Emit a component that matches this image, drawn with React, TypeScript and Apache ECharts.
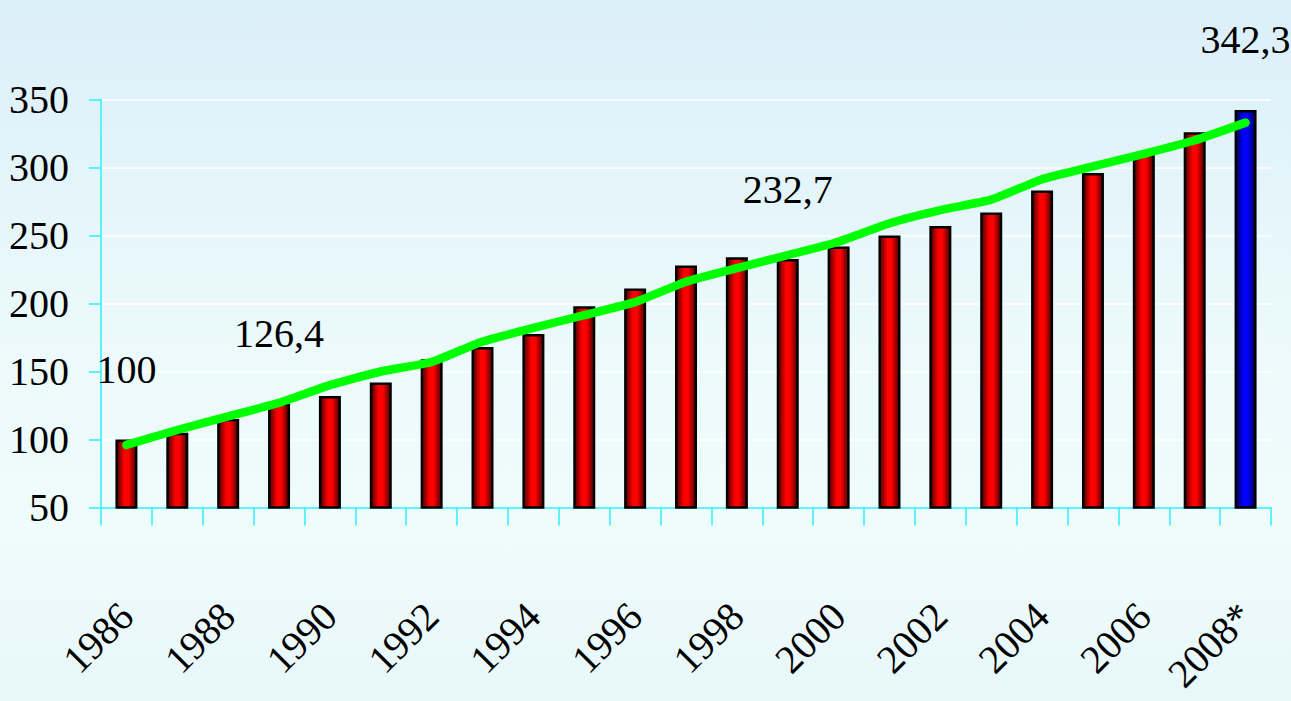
import React, { useEffect, useRef } from "react";
import * as echarts from "echarts";

const years = [
  "1986", "1987", "1988", "1989", "1990", "1991", "1992", "1993", "1994", "1995", "1996",
  "1997", "1998", "1999", "2000", "2001", "2002", "2003", "2004", "2005", "2006", "2007", "2008*",
];
const values = [
  100, 105, 115, 126.4, 132, 142, 159, 168, 177.5, 198, 211,
  228, 234, 232.7, 242, 250, 257, 267, 283, 296, 310, 326, 342.3,
];
const trend = [
  96, 107, 117, 127, 140, 150, 157, 172, 182, 191.5, 201,
  216, 226, 235.6, 245.4, 259, 268.7, 276.4, 291.4, 300.8, 310, 320, 333,
];
const labeledYears = ["1986", "1989", "1999", "2008*"];
const highlightYear = "2008*";
const yMin = 50;
const yMax = 350;
const yStep = 50;

const FONT = "'Liberation Serif', 'Times New Roman', serif";
const CYAN = "#2cf0ff";

export default function App() {
  const ref = useRef<HTMLDivElement>(null);
  useEffect(() => {
    if (!ref.current) return;
    const chart = echarts.init(ref.current, null, { renderer: "svg" });
    const redGrad = new echarts.graphic.LinearGradient(0, 0, 1, 0, [
      { offset: 0, color: "#4a0000" },
      { offset: 0.4, color: "#ff0000" },
      { offset: 0.6, color: "#ff0000" },
      { offset: 1, color: "#4a0000" },
    ]);
    const blueGrad = new echarts.graphic.LinearGradient(0, 0, 1, 0, [
      { offset: 0, color: "#00004a" },
      { offset: 0.4, color: "#0000ff" },
      { offset: 0.6, color: "#0000ff" },
      { offset: 1, color: "#00004a" },
    ]);
    const barData = values.map((v, i) => {
      const y = years[i];
      const item: any = {
        value: v,
        itemStyle: { color: y === highlightYear ? blueGrad : redGrad },
      };
      if (labeledYears.includes(y)) {
        item.label = {
          show: true,
          position: "top",
          distance: 50,
          formatter: (p: any) => String(p.value).replace(".", ","),
          fontFamily: FONT,
          fontSize: 40,
          color: "#000",
        };
      }
      return item;
    });
    chart.setOption({
      animation: false,
      backgroundColor: new echarts.graphic.LinearGradient(0, 0, 0, 1, [
        { offset: 0, color: "#dbeff9" },
        { offset: 0.5, color: "#ecfafb" },
        { offset: 0.75, color: "#effcfc" },
        { offset: 1, color: "#e8f7fa" },
      ]),
      grid: { left: 101, right: 20, top: 99.5, bottom: 193.5, containLabel: false },
      xAxis: {
        type: "category",
        data: years,
        boundaryGap: true,
        axisLine: { show: true, lineStyle: { color: CYAN, width: 1.5 } },
        axisTick: { show: true, interval: 0, length: 18, lineStyle: { color: CYAN, width: 1.5 } },
        axisLabel: {
          interval: 1,
          rotate: 45,
          margin: 102,
          fontFamily: FONT,
          fontSize: 40,
          color: "#000",
        },
        splitLine: { show: false },
      },
      yAxis: {
        type: "value",
        min: yMin,
        max: yMax,
        interval: yStep,
        axisLine: { show: true, lineStyle: { color: CYAN, width: 1.5 } },
        axisTick: { show: true, length: 12, lineStyle: { color: CYAN, width: 1.5 } },
        axisLabel: { margin: 32, fontFamily: FONT, fontSize: 40, color: "#000" },
        splitLine: { show: true, lineStyle: { color: "#ffffff", width: 1.5 } },
      },
      series: [
        {
          type: "bar",
          data: barData,
          barWidth: 22,
          itemStyle: { borderColor: "#000", borderWidth: 2.5 },
          z: 2,
        },
        {
          type: "line",
          data: trend,
          symbol: "none",
          smooth: 0.15,
          lineStyle: { color: "#00ff00", width: 8.5, cap: "round", join: "round" },
          z: 3,
        },
      ],
    });
    return () => chart.dispose();
  }, []);
  return (
    <div
      ref={ref}
      style={{ position: "fixed", left: 0, top: 0, width: 1291, height: 701 }}
    />
  );
}
